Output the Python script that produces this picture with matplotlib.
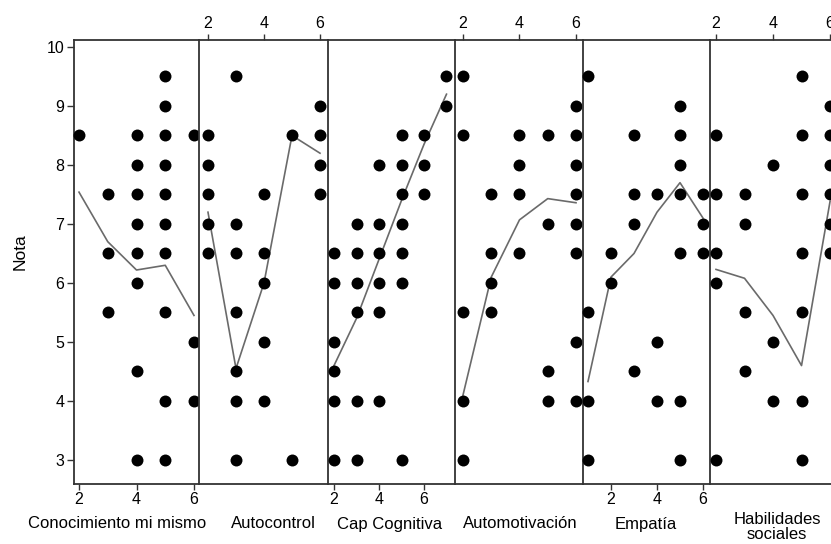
import matplotlib

matplotlib.use("Agg")
import matplotlib.pyplot as plt

plt.rcParams["font.family"] = ["Liberation Sans", "DejaVu Sans"]

# nota por nivel (x) en cada competencia
panel_labels = ["Conocimiento mi mismo", "Autocontrol", "Cap Cognitiva",
                "Automotivación", "Empatía", "Habilidades\nsociales"]

conocimiento_pts = {2: [8.5], 3: [7.5, 6.5, 5.5],
                    4: [8.5, 8, 7.5, 7, 6.5, 6, 4.5, 3],
                    5: [9.5, 9, 8.5, 8, 7.5, 7, 6.5, 5.5, 4, 3],
                    6: [8.5, 5, 4]}
autocontrol_pts = {2: [8.5, 8, 7.5, 7, 6.5],
                   3: [9.5, 7, 6.5, 5.5, 4.5, 4, 3],
                   4: [7.5, 6.5, 6, 5, 4],
                   5: [8.5, 3],
                   6: [9, 8.5, 8, 7.5]}
cognitiva_pts = {2: [6.5, 6, 5, 4.5, 4, 3],
                 3: [7, 6.5, 6, 5.5, 4, 3],
                 4: [8, 7, 6.5, 6, 5.5, 4],
                 5: [8.5, 8, 7.5, 7, 6.5, 6, 3],
                 6: [8.5, 8, 7.5],
                 7: [9.5, 9]}
automotivacion_pts = {2: [9.5, 8.5, 5.5, 4, 3],
                      3: [7.5, 6.5, 6, 5.5],
                      4: [8.5, 8, 7.5, 6.5],
                      5: [8.5, 7, 4.5, 4],
                      6: [9, 8.5, 8, 7.5, 7, 6.5, 5, 4]}
empatia_pts = {1: [9.5, 5.5, 4, 3],
               2: [6.5, 6],
               3: [8.5, 7.5, 7, 4.5],
               4: [7.5, 5, 4],
               5: [9, 8.5, 8, 7.5, 6.5, 4, 3],
               6: [7.5, 7, 6.5]}
habilidades_pts = {2: [8.5, 7.5, 6.5, 6, 3],
                   3: [7.5, 7, 5.5, 4.5],
                   4: [8, 5, 4],
                   5: [9.5, 8.5, 7.5, 6.5, 5.5, 4, 3],
                   6: [9, 8.5, 8, 7.5, 7, 6.5]}

# curva de ajuste, un valor por nivel
conocimiento_fit = [7.54, 6.7, 6.22, 6.3, 5.45]
autocontrol_fit = [7.2, 4.55, 6.0, 8.5, 8.2]
cognitiva_fit = [4.6, 5.4, 6.4, 7.4, 8.35, 9.2]
automotivacion_fit = [4.1, 6.1, 7.07, 7.43, 7.36]
empatia_fit = [4.33, 6.1, 6.5, 7.2, 7.7, 7.1]
habilidades_fit = [6.23, 6.08, 5.45, 4.6, 7.38]

y_ticks = [3, 4, 5, 6, 7, 8, 9, 10]
x_ticks = [2, 4, 6]

panels = [conocimiento_pts, autocontrol_pts, cognitiva_pts,
          automotivacion_pts, empatia_pts, habilidades_pts]
fits = [conocimiento_fit, autocontrol_fit, cognitiva_fit,
        automotivacion_fit, empatia_fit, habilidades_fit]

# layout in pixels
W, H = 831, 544
edges = [74, 199, 328, 455, 583, 710, 838]
xlims = [(1.826, 6.174), (1.679, 6.286), (1.733, 7.378),
         (1.717, 6.248), (0.783, 6.304), (1.789, 6.28)]
label_x = [117, 273, 390, 520, 646, 777]
top_px, bot_px = 39.5, 484

fig = plt.figure(figsize=(W / 100, H / 100), dpi=100)
spine_col = "#333333"

for i, (pts, fit) in enumerate(zip(panels, fits)):
    l = edges[i] / W
    w = (edges[i + 1] - edges[i]) / W
    b = 1 - bot_px / H
    h = (bot_px - top_px) / H
    ax = fig.add_axes([l, b, w, h])
    xs = [x for x in pts for _ in pts[x]]
    ys = [v for x in pts for v in pts[x]]
    ax.plot(sorted(pts), fit, color="#6a6a6a", lw=1.2, zorder=2)
    ax.plot(xs, ys, "o", color="black", ms=8.6, mew=0, clip_on=False, zorder=3)
    ax.set_xlim(*xlims[i])
    ax.set_ylim(2.593, 10.127)
    for s in ax.spines.values():
        s.set_color(spine_col)
        s.set_linewidth(1.3)
    ax.spines["right"].set_visible(False)

    ax.set_xticks(x_ticks)
    on_top = i % 2 == 1
    ax.tick_params(axis="x", direction="out", length=4, width=1, color=spine_col,
                   labelsize=11.5, pad=2,
                   top=on_top, labeltop=on_top, bottom=not on_top, labelbottom=not on_top)
    if i == 0:
        ax.set_yticks(y_ticks)
        ax.tick_params(axis="y", direction="out", length=5, width=1, color=spine_col,
                       labelsize=11.5, pad=2)
    else:
        ax.set_yticks([])

    if "\n" in panel_labels[i]:
        fig.text(label_x[i] / W, 1 - 512 / H, panel_labels[i], ha="center", va="top",
                 fontsize=12, linespacing=1.0)
    else:
        fig.text(label_x[i] / W, 1 - 524 / H, panel_labels[i], ha="center", va="center",
                 fontsize=12)

fig.text(20 / W, 1 - 252 / H, "Nota", rotation=90, ha="center", va="center", fontsize=12.5)

fig.savefig("out.png", dpi=100)
plt.close(fig)
